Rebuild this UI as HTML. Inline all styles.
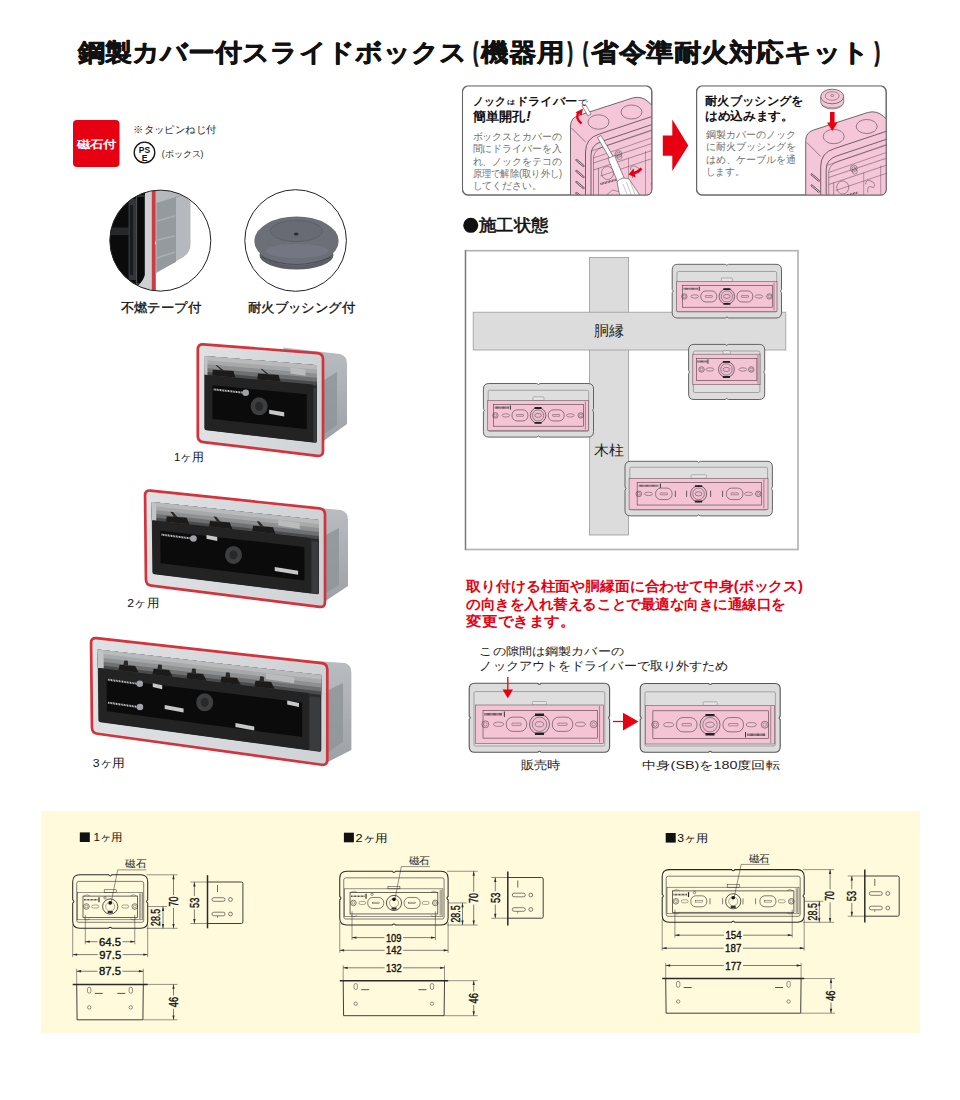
<!DOCTYPE html>
<html lang="ja"><head><meta charset="utf-8"><title>鋼製カバー付スライドボックス</title>
<style>
html,body{margin:0;padding:0;background:#fff;width:960px;height:1100px;overflow:hidden}
svg{display:block}
text{font-family:"Liberation Sans",sans-serif}
</style></head><body>
<svg width="960" height="1100" viewBox="0 0 960 1100">
<text x="77.74" y="60.69" font-size="25.46" font-weight="bold" fill="#111" textLength="389.84" lengthAdjust="spacingAndGlyphs" stroke="#111" stroke-width="0.55" stroke-linejoin="round">鋼製カバー付スライドボックス</text><text x="481.44" y="60.69" font-size="25.46" font-weight="bold" fill="#111" textLength="82.64" lengthAdjust="spacingAndGlyphs" stroke="#111" stroke-width="0.55" stroke-linejoin="round">機器用</text><text x="591.14" y="60.69" font-size="25.46" font-weight="bold" fill="#111" textLength="278.74" lengthAdjust="spacingAndGlyphs" stroke="#111" stroke-width="0.55" stroke-linejoin="round">省令準耐火対応キット</text><text x="473.3" y="61.4" font-size="26.4" font-weight="bold" fill="#111" textLength="4.6" lengthAdjust="spacingAndGlyphs" stroke="#111" stroke-width="1.6">(</text><text x="568.0" y="61.4" font-size="26.4" font-weight="bold" fill="#111" textLength="4.6" lengthAdjust="spacingAndGlyphs" stroke="#111" stroke-width="1.6">)</text><text x="583.0" y="61.4" font-size="26.4" font-weight="bold" fill="#111" textLength="4.6" lengthAdjust="spacingAndGlyphs" stroke="#111" stroke-width="1.6">(</text><text x="875.0" y="61.4" font-size="26.4" font-weight="bold" fill="#111" textLength="4.8" lengthAdjust="spacingAndGlyphs" stroke="#111" stroke-width="1.6">)</text><rect x="73" y="120" width="46.5" height="47" rx="4" fill="#E60012"/><text x="76.67" y="148.38" font-size="10.93" font-weight="bold" fill="#fff" textLength="40.17" lengthAdjust="spacingAndGlyphs" >磁石付</text><text x="133.21" y="132.94" font-size="9.68" fill="#222" textLength="83.07" lengthAdjust="spacingAndGlyphs" >※タッピンねじ付</text><circle cx="144.5" cy="152.5" r="10.3" fill="none" stroke="#111" stroke-width="1.3"/><text x="144.5" y="152.5" font-size="8.5" font-weight="bold" fill="#111" text-anchor="middle" >PS</text><text x="144.5" y="161" font-size="8.5" font-weight="bold" fill="#111" text-anchor="middle" >E</text><text x="161.8" y="156.85" font-size="8.6" fill="#222" textLength="41.6" lengthAdjust="spacingAndGlyphs" >(ボックス)</text><text x="120.62" y="311.6" font-size="12.69" fill="#111" textLength="80.42" lengthAdjust="spacingAndGlyphs" stroke="#111" stroke-width="0.3">不燃テープ付</text><text x="247.82" y="311.6" font-size="12.69" fill="#111" textLength="107.32" lengthAdjust="spacingAndGlyphs" stroke="#111" stroke-width="0.3">耐火ブッシング付</text><defs><clipPath id="c1"><circle cx="160.3" cy="240.6" r="50.5"/></clipPath><clipPath id="c2"><circle cx="295.6" cy="240.5" r="50.8"/></clipPath></defs><g clip-path="url(#c1)"><rect x="105" y="186" width="112" height="110" fill="#fff"/><rect x="105" y="186" width="42" height="110" fill="#0b0b0c"/><rect x="105" y="227.5" width="31" height="7.5" fill="#26282a"/><rect x="128.5" y="199" width="8" height="81" fill="#333538"/><rect x="130" y="205" width="3" height="70" fill="#1a1b1c"/><rect x="136.5" y="196" width="8.5" height="88" fill="#0a0a0a" stroke="#4a4c4f" stroke-width="1.2"/><path d="M145 186 L152.5 186 L152.5 296 L118 296 Q140 290 145 275 Z" fill="#cfd1d3"/><path d="M151.8 186 L155.8 186 L155.8 241 L154.8 243 L155.8 245 L155.8 296 L151.8 296 Z" fill="#cf3b44"/><path d="M155.8 186 L190.5 186 L190.5 244 Q190.5 254 180 259 L155.8 273.5 Z" fill="#b5b9bd"/><path d="M156.5 203 L176 197 L176 262 L156.5 272 Z" fill="#959a9f"/><path d="M157 221 L175 216 M157 240 L175 236 M157 258 L175 252" stroke="#a9aeb2" stroke-width="1.5"/><path d="M176 197 L190 193" stroke="#9ea2a6" stroke-width="1"/></g><circle cx="160.3" cy="240.6" r="50.5" fill="none" stroke="#222" stroke-width="1"/><g clip-path="url(#c2)"><rect x="240" y="185" width="112" height="112" fill="#fff"/><ellipse cx="296.5" cy="255" rx="37" ry="14.5" fill="#5b5e66"/><ellipse cx="296.5" cy="241" rx="42.2" ry="24.5" fill="#6c6f78"/><path d="M262 257 Q296.5 272 331 257" fill="none" stroke="#4c4f56" stroke-width="1.2"/><ellipse cx="297" cy="251" rx="31" ry="7" fill="#7b7e88" opacity="0.55"/><ellipse cx="296.4" cy="231" rx="26" ry="10.5" fill="#686b74" stroke="#5c5f67" stroke-width="0.9"/><ellipse cx="296.2" cy="234" rx="2.4" ry="1.6" fill="#2c2e33"/></g><circle cx="295.6" cy="240.5" r="50.8" fill="none" stroke="#222" stroke-width="1"/><defs><linearGradient id="gside" x1="0" y1="0" x2="0" y2="1"><stop offset="0" stop-color="#b9bdc1"/><stop offset="1" stop-color="#9ea2a6"/></linearGradient><linearGradient id="gframe" x1="0" y1="0" x2="1" y2="0"><stop offset="0" stop-color="#dfe1e3"/><stop offset="1" stop-color="#cfd2d5"/></linearGradient><linearGradient id="gopen" x1="0" y1="0" x2="0" y2="1"><stop offset="0" stop-color="#b9bbbd"/><stop offset="0.1" stop-color="#a3a5a7"/><stop offset="0.24" stop-color="#6e7072"/><stop offset="0.3" stop-color="#2a2a2a"/></linearGradient></defs><path d="M283 347.5 L340 354 Q347 356 347 364 L347 424 L323.5 441 Z" fill="url(#gside)"/><path d="M324 380 L337 372 L337 425 L324 434 Z" fill="#8f9397" opacity="0.8"/><path d="M203.30 344.42 L317.50 353.08 Q323.00 353.50 323.00 359.31 L323.00 450.69 Q323.00 456.50 317.50 455.84 L203.30 442.16 Q197.80 441.50 197.80 436.00 L197.80 349.50 Q197.80 344.00 203.30 344.42 Z" fill="url(#gframe)" stroke="#d3333d" stroke-width="2.7"/><path d="M206.30 356.19 L315.00 365.01 Q317.00 365.17 317.00 367.28 L317.00 440.83 Q317.00 442.94 315.00 442.71 L206.30 430.28 Q204.30 430.06 204.30 428.05 L204.30 358.04 Q204.30 356.03 206.30 356.19 Z" fill="#2a2a2a" /><path d="M204.30 356.03 L317.00 365.17 L317.00 385.41 L204.30 375.30 Z" fill="#4a4b4c" /><path d="M204.30 356.03 L317.00 365.17 L317.00 381.81 L204.30 371.87 Z" fill="#6e7072" /><path d="M204.30 356.03 L317.00 365.17 L317.00 377.70 L204.30 367.96 Z" fill="#8e9092" /><path d="M204.30 356.03 L317.00 365.17 L317.00 373.59 L204.30 364.05 Z" fill="#a6a8aa" /><path d="M204.30 356.03 L317.00 365.17 L317.00 369.48 L204.30 360.14 Z" fill="#b8babc" /><path d="M204.30 356.03 L207.43 358.24 L207.43 375.09 L204.30 374.81 Z" fill="#c2c4c6" /><path d="M212.82 369.68 L233.48 370.98 L235.36 377.59 L212.20 375.51 Z" fill="#1d1b1a" /><path d="M215.33 364.98 L217.21 365.14 L224.09 370.66 L221.59 370.44 Z" fill="#2a2827" /><path d="M257.90 373.59 L278.55 374.88 L280.43 381.62 L257.27 379.55 Z" fill="#1d1b1a" /><path d="M260.40 368.80 L262.28 368.96 L269.16 374.57 L266.66 374.36 Z" fill="#2a2827" /><path d="M290.45 367.28 L305.47 369.55 L305.47 375.68 L290.45 373.38 Z" fill="#b9bbbd" /><path d="M204.93 374.86 L312.98 384.53 L312.98 442.17 L204.93 429.83 Z" fill="#232324" /><path d="M212.43 385.35 L306.73 394.20 L306.73 429.18 L212.43 418.91 Z" fill="#0b0b0b" /><path d="M313.61 387.67 L316.50 387.93 L316.50 442.57 L313.61 442.24 Z" fill="#3a3b3c" /><ellipse cx="259.15" cy="406.27" rx="8.5" ry="9" fill="#3d3e40"/><ellipse cx="259.15" cy="406.27" rx="4" ry="4.5" fill="#27282a"/><line x1="213.68" y1="389.39" x2="243.68" y2="392.76" stroke="#c9cbcd" stroke-width="2" stroke-dasharray="1 0.6"/><circle cx="245.68" cy="392.76" r="3.3" fill="#9ea3a8"/><path d="M269.16 409.80 L284.19 412.34 L284.19 416.40 L269.16 413.82 Z" fill="#c6c8ca" /><text x="173.9" y="460.63" font-size="11.51" fill="#111" textLength="30.1" lengthAdjust="spacingAndGlyphs" >1ヶ用</text><path d="M290 505.5 L341 510 Q348 512 348 520 L348 586 L325.5 601 Z" fill="url(#gside)"/><path d="M326 535 L339 528 L339 585 L326 593 Z" fill="#8f9397" opacity="0.8"/><path d="M150.50 490.58 L319.50 508.42 Q325.00 509.00 325.00 514.70 L325.00 601.80 Q325.00 607.50 319.53 606.81 L151.47 585.69 Q146.00 585.00 145.94 579.50 L145.06 495.50 Q145.00 490.00 150.50 490.58 Z" fill="url(#gframe)" stroke="#d3333d" stroke-width="2.7"/><path d="M153.61 502.13 L317.01 519.76 Q319.00 519.98 319.00 522.05 L319.03 592.38 Q319.03 594.45 317.04 594.21 L154.33 574.17 Q152.34 573.92 152.32 571.92 L151.63 503.91 Q151.61 501.91 153.61 502.13 Z" fill="#2a2a2a" /><path d="M151.61 501.91 L319.00 519.98 L319.01 539.36 L151.80 520.65 Z" fill="#4a4b4c" /><path d="M151.61 501.91 L319.00 519.98 L319.01 535.91 L151.77 517.32 Z" fill="#6e7072" /><path d="M151.61 501.91 L319.00 519.98 L319.01 531.98 L151.73 513.52 Z" fill="#8e9092" /><path d="M151.61 501.91 L319.00 519.98 L319.01 528.04 L151.69 509.71 Z" fill="#a6a8aa" /><path d="M151.61 501.91 L319.00 519.98 L319.01 524.11 L151.65 505.91 Z" fill="#b8babc" /><path d="M151.61 501.91 L156.13 504.30 L156.29 520.68 L151.80 520.18 Z" fill="#c2c4c6" /><path d="M166.82 516.13 L186.59 517.84 L189.33 524.37 L165.97 521.76 Z" fill="#1d1b1a" /><path d="M170.37 511.76 L173.07 512.05 L177.61 517.33 L174.01 516.93 Z" fill="#2a2827" /><path d="M209.96 520.90 L229.73 522.61 L232.46 529.19 L209.10 526.58 Z" fill="#1d1b1a" /><path d="M213.52 516.49 L216.22 516.78 L220.75 522.10 L217.15 521.70 Z" fill="#2a2827" /><path d="M253.10 525.67 L272.87 527.37 L275.59 534.01 L252.23 531.40 Z" fill="#1d1b1a" /><path d="M256.68 521.21 L259.37 521.51 L263.88 526.87 L260.29 526.47 Z" fill="#2a2827" /><path d="M278.24 519.67 L299.82 523.00 L299.83 528.88 L278.26 525.53 Z" fill="#b9bbbd" /><path d="M152.70 520.28 L310.62 537.93 L310.67 593.13 L153.24 573.75 Z" fill="#232324" /><path d="M160.28 530.64 L304.40 547.04 L304.44 580.59 L160.59 563.23 Z" fill="#0b0b0b" /><path d="M311.53 540.98 L318.29 541.74 L318.31 594.07 L311.57 593.24 Z" fill="#3a3b3c" /><ellipse cx="233.49" cy="554.92" rx="8.5" ry="9" fill="#3d3e40"/><ellipse cx="233.49" cy="554.92" rx="4" ry="4.5" fill="#27282a"/><line x1="161.56" y1="534.60" x2="191.49" y2="538.50" stroke="#c9cbcd" stroke-width="2" stroke-dasharray="1 0.6"/><circle cx="193.49" cy="538.50" r="3.3" fill="#9ea3a8"/><path d="M274.78 567.07 L298.10 570.81 L298.11 574.73 L274.79 570.97 Z" fill="#c6c8ca" /><path d="M206.46 534.94 L217.25 537.12 L217.27 540.98 L206.49 538.78 Z" fill="#c6c8ca" /><text x="127.3" y="606.7" font-size="11.83" fill="#111" textLength="31.7" lengthAdjust="spacingAndGlyphs" >2ヶ用</text><path d="M300 660 L345 663 Q351.4 665 351.4 673 L351.4 750 L327.8 762 Z" fill="url(#gside)"/><path d="M328.5 690 L343 683 L343 742 L328.5 752 Z" fill="#8f9397" opacity="0.8"/><path d="M96.50 638.11 L321.80 663.19 Q327.30 663.80 327.30 669.66 L327.30 759.64 Q327.30 765.50 321.82 764.74 L97.48 733.76 Q92.00 733.00 91.94 727.50 L91.06 643.00 Q91.00 637.50 96.50 638.11 Z" fill="url(#gframe)" stroke="#d3333d" stroke-width="2.7"/><path d="M99.61 649.74 L319.30 674.89 Q321.30 675.11 321.30 677.24 L321.32 749.86 Q321.32 751.98 319.33 751.71 L100.34 722.20 Q98.35 721.94 98.33 719.93 L97.64 651.52 Q97.61 649.51 99.61 649.74 Z" fill="#2a2a2a" /><path d="M97.61 649.51 L321.30 675.11 L321.31 695.12 L97.81 668.36 Z" fill="#4a4b4c" /><path d="M97.61 649.51 L321.30 675.11 L321.31 691.56 L97.77 665.01 Z" fill="#6e7072" /><path d="M97.61 649.51 L321.30 675.11 L321.31 687.50 L97.73 661.18 Z" fill="#8e9092" /><path d="M97.61 649.51 L321.30 675.11 L321.31 683.44 L97.69 657.36 Z" fill="#a6a8aa" /><path d="M97.61 649.51 L321.30 675.11 L321.30 679.38 L97.66 653.53 Z" fill="#b8babc" /><path d="M97.61 649.51 L103.54 652.10 L103.70 668.59 L97.80 667.88 Z" fill="#c2c4c6" /><path d="M119.58 664.72 L135.15 666.07 L138.74 672.78 L118.45 670.35 Z" fill="#1d1b1a" /><path d="M124.25 660.46 L127.80 660.87 L128.07 665.72 L123.35 665.16 Z" fill="#2a2827" /><path d="M153.57 668.73 L169.14 670.08 L172.73 676.84 L152.43 674.41 Z" fill="#1d1b1a" /><path d="M158.25 664.42 L161.79 664.83 L162.06 669.73 L157.34 669.17 Z" fill="#2a2827" /><path d="M187.56 672.74 L203.14 674.08 L206.71 680.91 L186.41 678.48 Z" fill="#1d1b1a" /><path d="M192.25 668.39 L195.79 668.80 L196.06 673.74 L191.34 673.18 Z" fill="#2a2827" /><path d="M221.55 676.75 L237.13 678.09 L240.69 684.97 L220.40 682.54 Z" fill="#1d1b1a" /><path d="M226.25 672.35 L229.79 672.77 L230.05 677.75 L225.33 677.19 Z" fill="#2a2827" /><path d="M255.54 680.76 L271.12 682.10 L274.67 689.03 L254.38 686.61 Z" fill="#1d1b1a" /><path d="M260.25 676.32 L263.79 676.73 L264.04 681.76 L259.32 681.20 Z" fill="#2a2827" /><path d="M265.90 672.98 L294.24 677.26 L294.25 683.31 L265.92 678.98 Z" fill="#b9bbbd" /><path d="M98.98 668.02 L308.42 693.07 L308.47 749.95 L99.53 721.81 Z" fill="#232324" /><path d="M106.57 678.51 L302.19 702.43 L302.23 736.98 L106.89 711.31 Z" fill="#0b0b0b" /><path d="M309.60 696.25 L320.36 697.54 L320.38 751.55 L309.64 750.10 Z" fill="#3a3b3c" /><ellipse cx="204.70" cy="702.32" rx="8.5" ry="9" fill="#3d3e40"/><ellipse cx="204.70" cy="702.32" rx="4" ry="4.5" fill="#27282a"/><line x1="107.82" y1="679.62" x2="137.77" y2="683.77" stroke="#c9cbcd" stroke-width="2" stroke-dasharray="1 0.6"/><circle cx="139.77" cy="683.77" r="3.3" fill="#9ea3a8"/><line x1="108.05" y1="702.64" x2="137.97" y2="706.99" stroke="#c9cbcd" stroke-width="2" stroke-dasharray="1 0.6"/><circle cx="139.97" cy="706.99" r="3.3" fill="#9ea3a8"/><path d="M164.67 705.08 L183.54 708.47 L183.56 712.38 L164.70 708.98 Z" fill="#c6c8ca" /><path d="M235.42 723.04 L254.27 726.49 L254.28 730.48 L235.43 727.01 Z" fill="#c6c8ca" /><path d="M152.73 683.18 L162.18 685.31 L162.21 689.20 L152.76 687.07 Z" fill="#c6c8ca" /><path d="M287.20 700.59 L298.99 703.05 L299.00 707.08 L287.21 704.62 Z" fill="#c6c8ca" /><text x="92.8" y="767.23" font-size="11.51" fill="#111" textLength="32.3" lengthAdjust="spacingAndGlyphs" >3ヶ用</text><rect x="462.5" y="86" width="189.3" height="109" rx="6" fill="#fff" stroke="#6e6e6e" stroke-width="1.1"/><rect x="696.6" y="86" width="189.6" height="109" rx="6" fill="#fff" stroke="#6e6e6e" stroke-width="1.1"/><defs><clipPath id="b1"><rect x="462.5" y="86" width="189.3" height="109" rx="6"/></clipPath><clipPath id="b2"><rect x="696.6" y="86" width="189.6" height="109" rx="6"/></clipPath></defs><g clip-path="url(#b1)"><path d="M570.5 198 L570.5 126 Q570.5 118 578.5 115.5 L632.5 98 Q641.5 95.5 648.5 102 L665.5 118 L665.5 198 Z" fill="#f5c6d8" stroke="#4f4448" stroke-width="0.8"/><path d="M571.5 128 L585.5 142" stroke="#4f4448" stroke-width="0.6" fill="none"/><path d="M585.5 198 L585.5 152 Q585.5 138 599.5 134 L665.5 112" stroke="#4f4448" stroke-width="0.8" fill="none"/><path d="M591.0 198 L591.0 155 Q591.0 145 601.5 141.5 L665.5 120" stroke="#4f4448" stroke-width="0.8" fill="none"/><path d="M593.5 198 L593.5 157 Q594.5 150 602.5 147 L665.5 126" stroke="#4f4448" stroke-width="0.5" fill="none"/><path d="M593.5 163 L665.5 139 M593.5 170 L665.5 146 M598.5 198 L598.5 168" stroke="#4f4448" stroke-width="0.5" fill="none"/><path d="M628.5 198 L628.5 158 M645.5 198 L645.5 151" stroke="#4f4448" stroke-width="0.4" fill="none"/><path d="M591.5 151 L665.5 125 M593.5 158 L665.5 133 M600.5 176 L665.5 154" stroke="#4f4448" stroke-width="0.45" fill="none"/><path d="M630.5 170 q0 -5 4 -4 l4 2 q2 2 0 5 l-4 -1 q-2 0 -2 3 l0 3" stroke="#4f4448" stroke-width="0.5" fill="none"/><circle cx="619.5" cy="157" r="2.6" fill="none" stroke="#4f4448" stroke-width="0.45"/><path d="M606.5 195 l6 -5 l8 2 l0 6 M650.5 184 l6 -2 l0 8" stroke="#4f4448" stroke-width="0.45" fill="none"/><circle cx="618.5" cy="154" r="3.4" fill="none" stroke="#4f4448" stroke-width="0.5"/><circle cx="618.5" cy="154" r="1.8" fill="none" stroke="#4f4448" stroke-width="0.5"/><ellipse cx="607.5" cy="173" rx="6" ry="6.5" fill="none" stroke="#4f4448" stroke-width="0.5"/><path d="M600.5 184 L622.5 178" stroke="#4f4448" stroke-width="2.2" stroke-dasharray="0.8 0.7" fill="none"/><ellipse cx="598.5" cy="122" rx="10.5" ry="7.2" fill="none" stroke="#4f4448" stroke-width="0.6"/><ellipse cx="631.5" cy="112" rx="10.5" ry="7" fill="none" stroke="#4f4448" stroke-width="0.6"/><path d="M576.5 160 L583.5 166" stroke="#4f4448" stroke-width="2.2" stroke-linecap="round"/><path d="M576.5 160 L583.5 166" stroke="#f3c6d6" stroke-width="1" stroke-linecap="round"/><path d="M576.5 171 L583.5 177" stroke="#4f4448" stroke-width="2.2" stroke-linecap="round"/><path d="M576.5 171 L583.5 177" stroke="#f3c6d6" stroke-width="1" stroke-linecap="round"/><path d="M576.5 182 L583.5 188" stroke="#4f4448" stroke-width="2.2" stroke-linecap="round"/><path d="M576.5 182 L583.5 188" stroke="#f3c6d6" stroke-width="1" stroke-linecap="round"/><path d="M576.5 193 L583.5 199" stroke="#4f4448" stroke-width="2.2" stroke-linecap="round"/><path d="M576.5 193 L583.5 199" stroke="#f3c6d6" stroke-width="1" stroke-linecap="round"/></g><g clip-path="url(#b2)"><path d="M805.7 212.5 L805.7 140.5 Q805.7 132.5 813.7 130.0 L867.7 112.5 Q876.7 110.0 883.7 116.5 L900.7 132.5 L900.7 212.5 Z" fill="#f5c6d8" stroke="#4f4448" stroke-width="0.8"/><path d="M806.7 142.5 L820.7 156.5" stroke="#4f4448" stroke-width="0.6" fill="none"/><path d="M820.7 212.5 L820.7 166.5 Q820.7 152.5 834.7 148.5 L900.7 126.5" stroke="#4f4448" stroke-width="0.8" fill="none"/><path d="M826.2 212.5 L826.2 169.5 Q826.2 159.5 836.7 156.0 L900.7 134.5" stroke="#4f4448" stroke-width="0.8" fill="none"/><path d="M828.7 212.5 L828.7 171.5 Q829.7 164.5 837.7 161.5 L900.7 140.5" stroke="#4f4448" stroke-width="0.5" fill="none"/><path d="M828.7 177.5 L900.7 153.5 M828.7 184.5 L900.7 160.5 M833.7 212.5 L833.7 182.5" stroke="#4f4448" stroke-width="0.5" fill="none"/><path d="M863.7 212.5 L863.7 172.5 M880.7 212.5 L880.7 165.5" stroke="#4f4448" stroke-width="0.4" fill="none"/><path d="M826.7 165.5 L900.7 139.5 M828.7 172.5 L900.7 147.5 M835.7 190.5 L900.7 168.5" stroke="#4f4448" stroke-width="0.45" fill="none"/><path d="M865.7 184.5 q0 -5 4 -4 l4 2 q2 2 0 5 l-4 -1 q-2 0 -2 3 l0 3" stroke="#4f4448" stroke-width="0.5" fill="none"/><circle cx="854.7" cy="171.5" r="2.6" fill="none" stroke="#4f4448" stroke-width="0.45"/><path d="M841.7 209.5 l6 -5 l8 2 l0 6 M885.7 198.5 l6 -2 l0 8" stroke="#4f4448" stroke-width="0.45" fill="none"/><circle cx="853.7" cy="168.5" r="3.4" fill="none" stroke="#4f4448" stroke-width="0.5"/><circle cx="853.7" cy="168.5" r="1.8" fill="none" stroke="#4f4448" stroke-width="0.5"/><ellipse cx="842.7" cy="187.5" rx="6" ry="6.5" fill="none" stroke="#4f4448" stroke-width="0.5"/><path d="M835.7 198.5 L857.7 192.5" stroke="#4f4448" stroke-width="2.2" stroke-dasharray="0.8 0.7" fill="none"/><ellipse cx="833.7" cy="136.5" rx="10.5" ry="7.2" fill="none" stroke="#4f4448" stroke-width="0.6"/><ellipse cx="866.7" cy="126.5" rx="10.5" ry="7" fill="none" stroke="#4f4448" stroke-width="0.6"/><path d="M811.7 174.5 L818.7 180.5" stroke="#4f4448" stroke-width="2.2" stroke-linecap="round"/><path d="M811.7 174.5 L818.7 180.5" stroke="#f3c6d6" stroke-width="1" stroke-linecap="round"/><path d="M811.7 185.5 L818.7 191.5" stroke="#4f4448" stroke-width="2.2" stroke-linecap="round"/><path d="M811.7 185.5 L818.7 191.5" stroke="#f3c6d6" stroke-width="1" stroke-linecap="round"/><path d="M811.7 196.5 L818.7 202.5" stroke="#4f4448" stroke-width="2.2" stroke-linecap="round"/><path d="M811.7 196.5 L818.7 202.5" stroke="#f3c6d6" stroke-width="1" stroke-linecap="round"/><path d="M811.7 207.5 L818.7 213.5" stroke="#4f4448" stroke-width="2.2" stroke-linecap="round"/><path d="M811.7 207.5 L818.7 213.5" stroke="#f3c6d6" stroke-width="1" stroke-linecap="round"/></g><g clip-path="url(#b1)"><path d="M582 106 L585.5 104.5 L591 114 L588 116 Z" fill="#fff" stroke="#4f4448" stroke-width="0.6"/><path d="M597.5 137.5 L601 135.5 L613.5 157 L610 159 Z" fill="#fff" stroke="#4f4448" stroke-width="0.6"/><path d="M608 158.5 L614.5 155.5 L625 180 L618 183 Z" fill="#fff" stroke="#4f4448" stroke-width="0.6"/><path d="M617 182 Q622 176 629 179 L641 197 L620 197 Z" fill="#fff" stroke="#4f4448" stroke-width="0.6"/><path d="M623 184 L628 197 M626.5 182 L632 197 M630 181 L636 197" stroke="#9a8a90" stroke-width="0.5"/></g><path d="M581.5 123.5 Q574.5 118 579 111.5" fill="none" stroke="#E60012" stroke-width="2.4"/><path d="M575.5 112.5 L583 108.5 L581.5 115.5 Z" fill="#E60012"/><path d="M641.5 168.5 Q637 173 632 173.5" fill="none" stroke="#E60012" stroke-width="2.6"/><path d="M633.5 168.5 L628.5 174.5 L635.5 177.5 Z" fill="#E60012"/><path d="M820.7 97 L820.7 102 A11.5 7 0 0 0 843.7 102 L843.7 97 Z" fill="#f3c6d6" stroke="#4f4448" stroke-width="0.6"/><ellipse cx="832.2" cy="96.5" rx="11.5" ry="7.3" fill="#f3c6d6" stroke="#4f4448" stroke-width="0.7"/><ellipse cx="832.2" cy="96" rx="7" ry="4.3" fill="none" stroke="#4f4448" stroke-width="0.5"/><ellipse cx="832.2" cy="95.5" rx="1.6" ry="1" fill="none" stroke="#4f4448" stroke-width="0.5"/><path d="M822 104.5 A11 5 0 0 0 842.5 104.5" fill="none" stroke="#4f4448" stroke-width="0.4"/><path d="M830 112 L834.6 112 L834.6 122.5 L837.5 122.5 L832.3 131 L827 122.5 L830 122.5 Z" fill="#E60012"/><rect x="462.5" y="86" width="189.3" height="109" rx="5" fill="none" stroke="#666" stroke-width="1"/><rect x="696.6" y="86" width="189.6" height="109" rx="5" fill="none" stroke="#666" stroke-width="1"/><path d="M467 86.2 L647 86.2 M701 86.2 L881.5 86.2" stroke="#b0b0b0" stroke-width="1.8"/><path d="M662.8 135.4 L672.3 135.4 L672.3 119.4 L688.3 145.4 L672.3 171.1 L672.3 155.8 L662.8 155.8 Z" fill="#E60012"/><text x="472.86" y="104.64" font-size="11.24" font-weight="bold" fill="#111" textLength="32.5" lengthAdjust="spacingAndGlyphs" >ノック</text><text x="506.57" y="104.11" font-size="6.08" font-weight="bold" fill="#111" textLength="8.24" lengthAdjust="spacingAndGlyphs" >は</text><text x="516.06" y="104.64" font-size="11.24" font-weight="bold" fill="#111" textLength="61.0" lengthAdjust="spacingAndGlyphs" >ドライバー</text><text x="577.57" y="104.66" font-size="7.63" fill="#111" textLength="9.61" lengthAdjust="spacingAndGlyphs" >で</text><text x="472.8" y="120.57" font-size="13.3" font-weight="bold" fill="#111" textLength="52.66" lengthAdjust="spacingAndGlyphs" >簡単開孔</text><text x="526" y="121.2" font-size="14.5" font-weight="bold" fill="#111" font-style="italic">!</text><text x="472.5" y="140.2" font-size="10.0" fill="#707070" textLength="89.5" lengthAdjust="spacingAndGlyphs" >ボックスとカバーの</text><text x="472.5" y="152.4" font-size="10.0" fill="#707070" textLength="89.5" lengthAdjust="spacingAndGlyphs" >間にドライバーを入</text><text x="472.5" y="164.6" font-size="10.0" fill="#707070" textLength="89.5" lengthAdjust="spacingAndGlyphs" >れ、ノックをテコの</text><text x="472.5" y="176.8" font-size="10.0" fill="#707070" textLength="89.7" lengthAdjust="spacingAndGlyphs" >原理で解除(取り外し)</text><text x="472.5" y="189.0" font-size="10.0" fill="#707070" textLength="69.4" lengthAdjust="spacingAndGlyphs" >してください。</text><text x="704.94" y="104.65" font-size="11.96" font-weight="bold" fill="#111" textLength="98.66" lengthAdjust="spacingAndGlyphs" >耐火ブッシングを</text><text x="704.94" y="120.05" font-size="11.96" font-weight="bold" fill="#111" textLength="88.98" lengthAdjust="spacingAndGlyphs" >はめ込みます。</text><text x="705.7" y="137.8" font-size="10.0" fill="#707070" textLength="89.8" lengthAdjust="spacingAndGlyphs" >鋼製カバーのノック</text><text x="705.7" y="150.2" font-size="10.0" fill="#707070" textLength="89.8" lengthAdjust="spacingAndGlyphs" >に耐火ブッシングを</text><text x="705.7" y="162.6" font-size="10.0" fill="#707070" textLength="89.8" lengthAdjust="spacingAndGlyphs" >はめ、ケーブルを通</text><text x="705.7" y="175.0" font-size="10.0" fill="#707070" textLength="39.1" lengthAdjust="spacingAndGlyphs" >します。</text><circle cx="470.75" cy="225.35" r="7.5" fill="#111"/><text x="478.89" y="231.23" font-size="16.99" fill="#111" textLength="69.76" lengthAdjust="spacingAndGlyphs" stroke="#111" stroke-width="0.55">施工状態</text><rect x="465.5" y="250.7" width="332.5" height="298.8" fill="#fff" stroke="#b4b4b4" stroke-width="1.7"/><path d="M465.5 250 L465.5 550" stroke="#777" stroke-width="1.1"/><rect x="589.4" y="257.5" width="39.1" height="277.5" fill="#dcdcdc" stroke="#9a9a9a" stroke-width="0.8"/><rect x="473.2" y="312.2" width="312.6" height="37.8" fill="#dcdcdc" stroke="#9a9a9a" stroke-width="0.8"/><text x="593.94" y="336.31" font-size="15.38" fill="#222" textLength="30.03" lengthAdjust="spacingAndGlyphs" >胴縁</text><text x="593.59" y="455.11" font-size="13.55" fill="#222" textLength="30.08" lengthAdjust="spacingAndGlyphs" >木柱</text><path d="M677.7 264.3 L725.25 264.3 Q726.85 266.3 728.45 264.3 L776.0 264.3 Q781.5 264.3 781.5 269.8 L781.5 289.54999999999995 Q779.5 291.15 781.5 292.75 L781.5 312.5 Q781.5 318 776.0 318 L728.45 318 Q726.85 316 725.25 318 L677.7 318 Q672.2 318 672.2 312.5 L672.2 292.75 Q674.2 291.15 672.2 289.54999999999995 L672.2 269.8 Q672.2 264.3 677.7 264.3 Z" fill="#dcdcdc" stroke="#555" stroke-width="0.9"/><rect x="677.0" y="271.5" width="99.69999999999996" height="40.5" rx="1.5" fill="#dedede" stroke="#7a7a7a" stroke-width="0.6"/><rect x="721.3335000000001" y="278.0" width="11.032999999999996" height="3.5" rx="0.8" fill="#e6e6e6" stroke="#7a7a7a" stroke-width="0.5"/><rect x="676.7" y="281.5" width="100.29999999999995" height="29.899999999999977" fill="#f4c4d5" stroke="#6a5a60" stroke-width="0.6"/><rect x="682.5174000000001" y="285.686" width="89.76849999999996" height="21.527999999999984" fill="none" stroke="#4a3f44" stroke-width="0.6"/><line x1="773.991" y1="282.5" x2="773.991" y2="310.4" stroke="#4a3f44" stroke-width="0.5"/><circle cx="726.85" cy="296.45" r="7.773999999999995" fill="#efbdd0" stroke="#4a3f44" stroke-width="0.7"/><circle cx="726.85" cy="296.45" r="5.597279999999996" fill="none" stroke="#4a3f44" stroke-width="0.5"/><path d="M723.3517 289.0647 h6.9965999999999955 M723.3517 303.83529999999996 h6.9965999999999955" stroke="#222" stroke-width="1.7939999999999985"/><ellipse cx="726.85" cy="296.45" rx="3.2650799999999975" ry="2.021239999999999" fill="none" stroke="#4a3f44" stroke-width="0.5"/><rect x="700.8725000000001" y="290.9185" width="15.846999999999989" height="11.062999999999992" rx="5.082999999999997" fill="none" stroke="#4a3f44" stroke-width="0.6"/><rect x="705.2080000000001" y="295.553" width="7.175999999999994" height="1.7939999999999985" rx="0.5" fill="none" stroke="#4a3f44" stroke-width="0.45"/><rect x="736.9805" y="290.9185" width="15.846999999999989" height="11.062999999999992" rx="5.082999999999997" fill="none" stroke="#4a3f44" stroke-width="0.6"/><rect x="741.316" y="295.553" width="7.175999999999994" height="1.7939999999999985" rx="0.5" fill="none" stroke="#4a3f44" stroke-width="0.45"/><ellipse cx="694.754" cy="296.45" rx="3.8869999999999973" ry="1.6444999999999987" fill="none" stroke="#4a3f44" stroke-width="0.5"/><circle cx="684.3228" cy="296.45" r="2.690999999999998" fill="none" stroke="#4a3f44" stroke-width="0.6"/><circle cx="684.3228" cy="296.45" r="1.345499999999999" fill="none" stroke="#4a3f44" stroke-width="0.4"/><ellipse cx="758.946" cy="296.45" rx="3.8869999999999973" ry="1.6444999999999987" fill="none" stroke="#4a3f44" stroke-width="0.5"/><circle cx="769.3772" cy="296.45" r="2.690999999999998" fill="none" stroke="#4a3f44" stroke-width="0.6"/><circle cx="769.3772" cy="296.45" r="1.345499999999999" fill="none" stroke="#4a3f44" stroke-width="0.4"/><path d="M683.721 288.676 h14.041999999999994" stroke="#333" stroke-width="2.0929999999999986" stroke-dasharray="0.7 0.5"/><line x1="699.2675" y1="286.58299999999997" x2="699.2675" y2="290.769" stroke="#333" stroke-width="1"/><path d="M694.1 344.4 L725.0500000000001 344.4 Q726.6500000000001 346.4 728.2500000000001 344.4 L759.2 344.4 Q764.7 344.4 764.7 349.9 L764.7 370.34999999999997 Q762.7 371.95 764.7 373.55 L764.7 394.0 Q764.7 399.5 759.2 399.5 L728.2500000000001 399.5 Q726.6500000000001 397.5 725.0500000000001 399.5 L694.1 399.5 Q688.6 399.5 688.6 394.0 L688.6 373.55 Q690.6 371.95 688.6 370.34999999999997 L688.6 349.9 Q688.6 344.4 694.1 344.4 Z" fill="#dcdcdc" stroke="#555" stroke-width="0.9"/><rect x="693.4" y="351" width="66.50000000000003" height="41.5" rx="1.5" fill="#dedede" stroke="#7a7a7a" stroke-width="0.6"/><rect x="722.9540000000001" y="350.7" width="7.392000000000005" height="3.5" rx="0.8" fill="#e6e6e6" stroke="#7a7a7a" stroke-width="0.5"/><rect x="692.8" y="354.2" width="67.20000000000005" height="30.5" fill="#f4c4d5" stroke="#6a5a60" stroke-width="0.6"/><rect x="696.6976" y="358.46999999999997" width="60.14400000000004" height="21.96" fill="none" stroke="#4a3f44" stroke-width="0.6"/><line x1="757.984" y1="355.2" x2="757.984" y2="383.7" stroke="#4a3f44" stroke-width="0.5"/><circle cx="726.4" cy="369.45" r="7.930000000000001" fill="#efbdd0" stroke="#4a3f44" stroke-width="0.7"/><circle cx="726.4" cy="369.45" r="5.7096" fill="none" stroke="#4a3f44" stroke-width="0.5"/><path d="M722.8315 361.9165 h7.1370000000000005 M722.8315 376.9835 h7.1370000000000005" stroke="#222" stroke-width="1.8299999999999998"/><ellipse cx="726.4" cy="369.45" rx="3.3306" ry="2.0618000000000003" fill="none" stroke="#4a3f44" stroke-width="0.5"/><ellipse cx="709.9359999999999" cy="369.45" rx="3.9650000000000003" ry="1.6775" fill="none" stroke="#4a3f44" stroke-width="0.5"/><circle cx="701.536" cy="369.45" r="2.745" fill="none" stroke="#4a3f44" stroke-width="0.6"/><circle cx="701.536" cy="369.45" r="1.3725" fill="none" stroke="#4a3f44" stroke-width="0.4"/><ellipse cx="742.864" cy="369.45" rx="3.9650000000000003" ry="1.6775" fill="none" stroke="#4a3f44" stroke-width="0.5"/><circle cx="751.264" cy="369.45" r="2.745" fill="none" stroke="#4a3f44" stroke-width="0.6"/><circle cx="751.264" cy="369.45" r="1.3725" fill="none" stroke="#4a3f44" stroke-width="0.4"/><path d="M697.5039999999999 361.52 h9.408000000000007" stroke="#333" stroke-width="2.1350000000000002" stroke-dasharray="0.7 0.5"/><line x1="707.92" y1="359.385" x2="707.92" y2="363.655" stroke="#333" stroke-width="1"/><path d="M488.9 383.5 L536.85 383.5 Q538.45 385.5 540.0500000000001 383.5 L588.0 383.5 Q593.5 383.5 593.5 389.0 L593.5 408.7 Q591.5 410.3 593.5 411.90000000000003 L593.5 431.6 Q593.5 437.1 588.0 437.1 L540.0500000000001 437.1 Q538.45 435.1 536.85 437.1 L488.9 437.1 Q483.4 437.1 483.4 431.6 L483.4 411.90000000000003 Q485.4 410.3 483.4 408.7 L483.4 389.0 Q483.4 383.5 488.9 383.5 Z" fill="#dcdcdc" stroke="#555" stroke-width="0.9"/><rect x="488.2" y="390.25" width="100.50000000000003" height="41.25" rx="1.5" fill="#dedede" stroke="#7a7a7a" stroke-width="0.6"/><rect x="532.91425" y="396.9" width="11.071499999999997" height="3.5" rx="0.8" fill="#e6e6e6" stroke="#7a7a7a" stroke-width="0.5"/><rect x="487.75" y="400.4" width="100.64999999999998" height="30.0" fill="#f4c4d5" stroke="#6a5a60" stroke-width="0.6"/><rect x="493.5877" y="404.59999999999997" width="90.08174999999999" height="21.599999999999998" fill="none" stroke="#4a3f44" stroke-width="0.6"/><line x1="585.3805" y1="401.4" x2="585.3805" y2="429.4" stroke="#4a3f44" stroke-width="0.5"/><circle cx="538.075" cy="415.4" r="7.800000000000001" fill="#efbdd0" stroke="#4a3f44" stroke-width="0.7"/><circle cx="538.075" cy="415.4" r="5.6160000000000005" fill="none" stroke="#4a3f44" stroke-width="0.5"/><path d="M534.565 407.98999999999995 h7.0200000000000005 M534.565 422.81 h7.0200000000000005" stroke="#222" stroke-width="1.7999999999999998"/><ellipse cx="538.075" cy="415.4" rx="3.2760000000000002" ry="2.0280000000000005" fill="none" stroke="#4a3f44" stroke-width="0.5"/><rect x="512.008" y="409.84999999999997" width="15.9" height="11.1" rx="5.1000000000000005" fill="none" stroke="#4a3f44" stroke-width="0.6"/><rect x="516.3580000000001" y="414.5" width="7.199999999999999" height="1.7999999999999998" rx="0.5" fill="none" stroke="#4a3f44" stroke-width="0.45"/><rect x="548.242" y="409.84999999999997" width="15.9" height="11.1" rx="5.1000000000000005" fill="none" stroke="#4a3f44" stroke-width="0.6"/><rect x="552.592" y="414.5" width="7.199999999999999" height="1.7999999999999998" rx="0.5" fill="none" stroke="#4a3f44" stroke-width="0.45"/><ellipse cx="505.8670000000001" cy="415.4" rx="3.9000000000000004" ry="1.65" fill="none" stroke="#4a3f44" stroke-width="0.5"/><circle cx="495.39940000000007" cy="415.4" r="2.6999999999999997" fill="none" stroke="#4a3f44" stroke-width="0.6"/><circle cx="495.39940000000007" cy="415.4" r="1.3499999999999999" fill="none" stroke="#4a3f44" stroke-width="0.4"/><ellipse cx="570.283" cy="415.4" rx="3.9000000000000004" ry="1.65" fill="none" stroke="#4a3f44" stroke-width="0.5"/><circle cx="580.7506000000001" cy="415.4" r="2.6999999999999997" fill="none" stroke="#4a3f44" stroke-width="0.6"/><circle cx="580.7506000000001" cy="415.4" r="1.3499999999999999" fill="none" stroke="#4a3f44" stroke-width="0.4"/><path d="M494.7955 407.59999999999997 h14.090999999999998" stroke="#333" stroke-width="2.1" stroke-dasharray="0.7 0.5"/><line x1="510.39625" y1="405.49999999999994" x2="510.39625" y2="409.7" stroke="#333" stroke-width="1"/><path d="M630.5 461.3 L697.1 461.3 Q698.7 463.3 700.3000000000001 461.3 L766.9 461.3 Q772.4 461.3 772.4 466.8 L772.4 487.0 Q770.4 488.6 772.4 490.20000000000005 L772.4 510.4 Q772.4 515.9 766.9 515.9 L700.3000000000001 515.9 Q698.7 513.9 697.1 515.9 L630.5 515.9 Q625 515.9 625 510.4 L625 490.20000000000005 Q627 488.6 625 487.0 L625 466.8 Q625 461.3 630.5 461.3 Z" fill="#dcdcdc" stroke="#555" stroke-width="0.9"/><rect x="629.8" y="467.25" width="137.79999999999998" height="42.75" rx="1.5" fill="#dedede" stroke="#7a7a7a" stroke-width="0.6"/><rect x="691.0605" y="474.8" width="15.278999999999998" height="3.5" rx="0.8" fill="#e6e6e6" stroke="#7a7a7a" stroke-width="0.5"/><rect x="629.1" y="478.3" width="138.89999999999998" height="31.099999999999966" fill="#f4c4d5" stroke="#6a5a60" stroke-width="0.6"/><rect x="637.1562" y="482.654" width="124.31549999999999" height="22.391999999999975" fill="none" stroke="#4a3f44" stroke-width="0.6"/><line x1="763.833" y1="479.3" x2="763.833" y2="508.4" stroke="#4a3f44" stroke-width="0.5"/><circle cx="698.55" cy="493.85" r="8.085999999999991" fill="#efbdd0" stroke="#4a3f44" stroke-width="0.7"/><circle cx="698.55" cy="493.85" r="5.821919999999993" fill="none" stroke="#4a3f44" stroke-width="0.5"/><path d="M694.9113 486.16830000000004 h7.277399999999992 M694.9113 501.5317 h7.277399999999992" stroke="#222" stroke-width="1.8659999999999979"/><ellipse cx="698.55" cy="493.85" rx="3.3961199999999963" ry="2.102359999999998" fill="none" stroke="#4a3f44" stroke-width="0.5"/><rect x="655.5835" y="488.09650000000005" width="16.482999999999983" height="11.506999999999987" rx="5.286999999999995" fill="none" stroke="#4a3f44" stroke-width="0.6"/><rect x="660.093" y="492.91700000000003" width="7.4639999999999915" height="1.8659999999999979" rx="0.5" fill="none" stroke="#4a3f44" stroke-width="0.45"/><rect x="726.4225" y="488.09650000000005" width="16.482999999999983" height="11.506999999999987" rx="5.286999999999995" fill="none" stroke="#4a3f44" stroke-width="0.6"/><rect x="730.932" y="492.91700000000003" width="7.4639999999999915" height="1.8659999999999979" rx="0.5" fill="none" stroke="#4a3f44" stroke-width="0.45"/><ellipse cx="648.5459999999999" cy="493.85" rx="4.042999999999996" ry="1.7104999999999981" fill="none" stroke="#4a3f44" stroke-width="0.5"/><circle cx="638.823" cy="493.85" r="2.798999999999997" fill="none" stroke="#4a3f44" stroke-width="0.6"/><circle cx="638.823" cy="493.85" r="1.3994999999999984" fill="none" stroke="#4a3f44" stroke-width="0.4"/><ellipse cx="748.554" cy="493.85" rx="4.042999999999996" ry="1.7104999999999981" fill="none" stroke="#4a3f44" stroke-width="0.5"/><circle cx="758.2769999999999" cy="493.85" r="2.798999999999997" fill="none" stroke="#4a3f44" stroke-width="0.6"/><circle cx="758.2769999999999" cy="493.85" r="1.3994999999999984" fill="none" stroke="#4a3f44" stroke-width="0.4"/><line x1="675.3537" y1="490.74" x2="675.3537" y2="496.96000000000004" stroke="#4a3f44" stroke-width="0.8"/><line x1="686.6046" y1="490.74" x2="686.6046" y2="496.96000000000004" stroke="#4a3f44" stroke-width="0.8"/><line x1="710.6342999999999" y1="490.74" x2="710.6342999999999" y2="496.96000000000004" stroke="#4a3f44" stroke-width="0.8"/><line x1="722.5797" y1="490.74" x2="722.5797" y2="496.96000000000004" stroke="#4a3f44" stroke-width="0.8"/><path d="M638.823 485.764 h19.445999999999998" stroke="#333" stroke-width="2.176999999999998" stroke-dasharray="0.7 0.5"/><line x1="660.3525" y1="483.587" x2="660.3525" y2="487.94100000000003" stroke="#333" stroke-width="1"/><text x="466.38" y="590.99" font-size="13.92" font-weight="bold" fill="#E60012" textLength="336.62" lengthAdjust="spacingAndGlyphs" >取り付ける柱面や胴縁面に合わせて中身(ボックス)</text><text x="466.38" y="608.74" font-size="13.92" font-weight="bold" fill="#E60012" textLength="319.31" lengthAdjust="spacingAndGlyphs" >の向きを入れ替えることで最適な向きに通線口を</text><text x="466.38" y="626.49" font-size="13.92" font-weight="bold" fill="#E60012" textLength="109.35" lengthAdjust="spacingAndGlyphs" >変更できます。</text><text x="479.46" y="655.06" font-size="11.29" fill="#222" textLength="144.4" lengthAdjust="spacingAndGlyphs" >この隙間は鋼製カバーの</text><text x="479.44" y="670.19" font-size="11.94" fill="#222" textLength="248.85" lengthAdjust="spacingAndGlyphs" >ノックアウトをドライバーで取り外すため</text><path d="M474.7 683.3 L537.8 683.3 Q539.4 685.3 541.0 683.3 L604.1 683.3 Q609.6 683.3 609.6 688.8 L609.6 716.1999999999999 Q607.6 717.8 609.6 719.4 L609.6 746.8 Q609.6 752.3 604.1 752.3 L541.0 752.3 Q539.4 750.3 537.8 752.3 L474.7 752.3 Q469.2 752.3 469.2 746.8 L469.2 719.4 Q471.2 717.8 469.2 716.1999999999999 L469.2 688.8 Q469.2 683.3 474.7 683.3 Z" fill="#dcdcdc" stroke="#555" stroke-width="1.1"/><rect x="474.0" y="691.6" width="130.80000000000004" height="54.39999999999998" rx="1.5" fill="#dedede" stroke="#7a7a7a" stroke-width="0.6"/><rect x="532.371" y="701.5" width="14.057999999999995" height="3.5" rx="0.8" fill="#e6e6e6" stroke="#7a7a7a" stroke-width="0.5"/><rect x="475.6" y="705" width="127.79999999999995" height="38.5" fill="#f4c4d5" stroke="#6a5a60" stroke-width="0.6"/><rect x="483.0124" y="710.39" width="114.38099999999996" height="27.72" fill="none" stroke="#4a3f44" stroke-width="0.6"/><line x1="599.566" y1="706" x2="599.566" y2="742.5" stroke="#4a3f44" stroke-width="0.5"/><circle cx="539.5" cy="724.25" r="10.01" fill="#efbdd0" stroke="#4a3f44" stroke-width="0.7"/><circle cx="539.5" cy="724.25" r="7.207199999999999" fill="none" stroke="#4a3f44" stroke-width="0.5"/><path d="M534.9955 714.7405 h9.009 M534.9955 733.7595 h9.009" stroke="#222" stroke-width="2.31"/><ellipse cx="539.5" cy="724.25" rx="4.2042" ry="2.6026000000000002" fill="none" stroke="#4a3f44" stroke-width="0.5"/><rect x="506.2935" y="717.1275" width="20.405" height="14.245" rx="6.545000000000001" fill="none" stroke="#4a3f44" stroke-width="0.6"/><rect x="511.876" y="723.095" width="9.24" height="2.31" rx="0.5" fill="none" stroke="#4a3f44" stroke-width="0.45"/><rect x="552.3015" y="717.1275" width="20.405" height="14.245" rx="6.545000000000001" fill="none" stroke="#4a3f44" stroke-width="0.6"/><rect x="557.884" y="723.095" width="9.24" height="2.31" rx="0.5" fill="none" stroke="#4a3f44" stroke-width="0.45"/><ellipse cx="498.60400000000004" cy="724.25" rx="5.005" ry="2.1175" fill="none" stroke="#4a3f44" stroke-width="0.5"/><circle cx="485.31280000000004" cy="724.25" r="3.465" fill="none" stroke="#4a3f44" stroke-width="0.6"/><circle cx="485.31280000000004" cy="724.25" r="1.7325" fill="none" stroke="#4a3f44" stroke-width="0.4"/><ellipse cx="580.396" cy="724.25" rx="5.005" ry="2.1175" fill="none" stroke="#4a3f44" stroke-width="0.5"/><circle cx="593.6872" cy="724.25" r="3.465" fill="none" stroke="#4a3f44" stroke-width="0.6"/><circle cx="593.6872" cy="724.25" r="1.7325" fill="none" stroke="#4a3f44" stroke-width="0.4"/><path d="M484.54600000000005 714.24 h17.891999999999996" stroke="#333" stroke-width="2.6950000000000003" stroke-dasharray="0.7 0.5"/><line x1="504.355" y1="711.545" x2="504.355" y2="716.9350000000001" stroke="#333" stroke-width="1"/><path d="M645.7 683.5 L708.6 683.5 Q710.2 685.5 711.8000000000001 683.5 L774.7 683.5 Q780.2 683.5 780.2 689.0 L780.2 716.3 Q778.2 717.9 780.2 719.5 L780.2 746.8 Q780.2 752.3 774.7 752.3 L711.8000000000001 752.3 Q710.2 750.3 708.6 752.3 L645.7 752.3 Q640.2 752.3 640.2 746.8 L640.2 719.5 Q642.2 717.9 640.2 716.3 L640.2 689.0 Q640.2 683.5 645.7 683.5 Z" fill="#dcdcdc" stroke="#555" stroke-width="1.1"/><rect x="645.0" y="691.8" width="130.4" height="54.200000000000045" rx="1.5" fill="#dedede" stroke="#7a7a7a" stroke-width="0.6"/><rect x="703.094" y="701.9" width="14.212000000000005" height="3.5" rx="0.8" fill="#e6e6e6" stroke="#7a7a7a" stroke-width="0.5"/><rect x="645.4" y="705.4" width="129.20000000000005" height="38.60000000000002" fill="#f4c4d5" stroke="#6a5a60" stroke-width="0.6"/><rect x="652.8936" y="710.804" width="115.63400000000004" height="27.792000000000016" fill="none" stroke="#4a3f44" stroke-width="0.6"/><line x1="770.724" y1="706.4" x2="770.724" y2="743" stroke="#4a3f44" stroke-width="0.5"/><circle cx="710.0" cy="724.7" r="10.036000000000007" fill="#efbdd0" stroke="#4a3f44" stroke-width="0.7"/><circle cx="710.0" cy="724.7" r="7.225920000000005" fill="none" stroke="#4a3f44" stroke-width="0.5"/><path d="M705.4838 715.1658 h9.032400000000006 M705.4838 734.2342000000001 h9.032400000000006" stroke="#222" stroke-width="2.316000000000001"/><ellipse cx="710.0" cy="724.7" rx="4.215120000000002" ry="2.609360000000002" fill="none" stroke="#4a3f44" stroke-width="0.5"/><rect x="676.515" y="717.5590000000001" width="20.458000000000013" height="14.282000000000009" rx="6.562000000000005" fill="none" stroke="#4a3f44" stroke-width="0.6"/><rect x="682.1120000000001" y="723.542" width="9.264000000000005" height="2.316000000000001" rx="0.5" fill="none" stroke="#4a3f44" stroke-width="0.45"/><rect x="723.0269999999999" y="717.5590000000001" width="20.458000000000013" height="14.282000000000009" rx="6.562000000000005" fill="none" stroke="#4a3f44" stroke-width="0.6"/><rect x="728.624" y="723.542" width="9.264000000000005" height="2.316000000000001" rx="0.5" fill="none" stroke="#4a3f44" stroke-width="0.45"/><ellipse cx="668.656" cy="724.7" rx="5.018000000000003" ry="2.123000000000001" fill="none" stroke="#4a3f44" stroke-width="0.5"/><circle cx="655.2192" cy="724.7" r="3.474000000000002" fill="none" stroke="#4a3f44" stroke-width="0.6"/><circle cx="655.2192" cy="724.7" r="1.737000000000001" fill="none" stroke="#4a3f44" stroke-width="0.4"/><ellipse cx="751.344" cy="724.7" rx="5.018000000000003" ry="2.123000000000001" fill="none" stroke="#4a3f44" stroke-width="0.5"/><circle cx="764.7808" cy="724.7" r="3.474000000000002" fill="none" stroke="#4a3f44" stroke-width="0.6"/><circle cx="764.7808" cy="724.7" r="1.737000000000001" fill="none" stroke="#4a3f44" stroke-width="0.4"/><path d="M747.4680000000001 734.736 h18.088000000000008" stroke="#333" stroke-width="2.7020000000000017" stroke-dasharray="0.7 0.5"/><line x1="745.5300000000001" y1="732.034" x2="745.5300000000001" y2="737.438" stroke="#333" stroke-width="1"/><path d="M507.8 677 L507.8 690" stroke="#E60012" stroke-width="1.3"/><path d="M502.5 689.5 L513 689.5 L507.8 698.3 Z" fill="#E60012"/><path d="M613 721.5 L624 721.5" stroke="#E60012" stroke-width="1.3"/><path d="M623 712.7 L638.5 721.5 L623 730.4 Z" fill="#E60012"/><text x="520.63" y="768.64" font-size="12.37" fill="#222" textLength="39.99" lengthAdjust="spacingAndGlyphs" >販売時</text><text x="642.36" y="768.77" font-size="11.18" fill="#222" textLength="137.39" lengthAdjust="spacingAndGlyphs" >中身(SB)を180度回転</text><rect x="41" y="811" width="879" height="222" fill="#fffadc"/><rect x="79.8" y="832.4" width="10" height="9.6" fill="#111"/><text x="93.5" y="841.47" font-size="11.18" fill="#111" textLength="29.3" lengthAdjust="spacingAndGlyphs" >1ヶ用</text><text x="125.1" y="867.19" font-size="10.11" fill="#222" textLength="21.21" lengthAdjust="spacingAndGlyphs" >磁石</text><path d="M79.7 874.8 L108.6 874.8 Q110.19999999999999 877.0 111.79999999999998 874.8 L140.7 874.8 Q147.7 874.8 147.7 881.8 L147.7 899.9499999999999 Q145.5 901.55 147.7 903.15 L147.7 921.3 Q147.7 928.3 140.7 928.3 L111.79999999999998 928.3 Q110.19999999999999 926.0999999999999 108.6 928.3 L79.7 928.3 Q72.7 928.3 72.7 921.3 L72.7 903.15 Q74.9 901.55 72.7 899.9499999999999 L72.7 881.8 Q72.7 874.8 79.7 874.8 Z" fill="none" stroke="#2a2a2a" stroke-width="1.05"/><rect x="76.70" y="881.40" width="67.00" height="40.90" rx="2" fill="none" stroke="#2a2a2a" stroke-width="0.6"/><rect x="77.50" y="892.40" width="65.00" height="27.40" fill="none" stroke="#2a2a2a" stroke-width="0.5"/><rect x="104.20" y="889.80" width="12" height="2.6" fill="none" stroke="#2a2a2a" stroke-width="0.5"/><rect x="83.00" y="896.10" width="54.40" height="21.40" fill="none" stroke="#2a2a2a" stroke-width="0.7"/><line x1="139.70" y1="893.40" x2="139.70" y2="918.80" stroke="#2a2a2a" stroke-width="0.5"/><line x1="140.90" y1="893.40" x2="140.90" y2="918.80" stroke="#2a2a2a" stroke-width="0.5"/><path d="M84.00 895.90 q3 -2.5 6 0 M84.00 918.80 q3 2.5 6 0" fill="none" stroke="#2a2a2a" stroke-width="0.4"/><path d="M130.40 895.90 q3 -2.5 6 0 M130.40 918.80 q3 2.5 6 0" fill="none" stroke="#2a2a2a" stroke-width="0.4"/><circle cx="110.20" cy="906.50" r="7.6" fill="none" stroke="#2a2a2a" stroke-width="0.8"/><circle cx="110.20" cy="906.50" r="4.5" fill="none" stroke="#2a2a2a" stroke-width="0.4"/><circle cx="110.20" cy="902.90" r="1.8" fill="#111"/><rect x="107.70" y="911.00" width="5" height="2.2" fill="#333"/><circle cx="86.40" cy="906.50" r="2.8" fill="none" stroke="#2a2a2a" stroke-width="0.6"/><circle cx="86.40" cy="906.50" r="1.4" fill="none" stroke="#2a2a2a" stroke-width="0.4"/><circle cx="134.80" cy="906.50" r="2.8" fill="none" stroke="#2a2a2a" stroke-width="0.6"/><circle cx="134.80" cy="906.50" r="1.4" fill="none" stroke="#2a2a2a" stroke-width="0.4"/><rect x="91.80" y="905.00" width="6.8" height="3" rx="1.5" fill="none" stroke="#2a2a2a" stroke-width="0.4"/><rect x="121.80" y="905.00" width="6.8" height="3" rx="1.5" fill="none" stroke="#2a2a2a" stroke-width="0.4"/><path d="M84.00 899.80 h14" stroke="#2a2a2a" stroke-width="1.6" stroke-dasharray="0.8 0.6"/><line x1="99.00" y1="897.30" x2="99.00" y2="902.30" stroke="#2a2a2a" stroke-width="1.2"/><circle cx="105.00" cy="897.80" r="1.2" fill="none" stroke="#2a2a2a" stroke-width="0.5"/><line x1="117.70" y1="869.90" x2="146.30" y2="869.90" stroke="#2a2a2a" stroke-width="0.5"/><line x1="117.70" y1="869.90" x2="111.20" y2="902.50" stroke="#2a2a2a" stroke-width="0.5"/><line x1="146.70" y1="874.80" x2="177.50" y2="874.80" stroke="#2a2a2a" stroke-width="0.5"/><line x1="148.20" y1="906.50" x2="167.00" y2="906.50" stroke="#2a2a2a" stroke-width="0.5"/><line x1="146.70" y1="928.30" x2="177.50" y2="928.30" stroke="#2a2a2a" stroke-width="0.5"/><line x1="173.50" y1="874.80" x2="173.50" y2="928.30" stroke="#2a2a2a" stroke-width="0.6"/><path d="M173.50 874.80 L174.65 879.20 L172.35 879.20 Z" fill="#2a2a2a"/><path d="M173.50 928.30 L172.35 923.90 L174.65 923.90 Z" fill="#2a2a2a"/><g transform="rotate(-90 173.50 901.55)"><rect x="167.10" y="896.75" width="12.80" height="9.60" fill="#fffadc"/><text x="168.60" y="905.85" font-size="11.94" fill="#111" stroke="#111" stroke-width="0.38" textLength="9.80" lengthAdjust="spacingAndGlyphs">70</text></g><line x1="163.00" y1="906.50" x2="163.00" y2="928.30" stroke="#2a2a2a" stroke-width="0.6"/><path d="M163.00 906.50 L164.15 910.90 L161.85 910.90 Z" fill="#2a2a2a"/><path d="M163.00 928.30 L161.85 923.90 L164.15 923.90 Z" fill="#2a2a2a"/><g transform="rotate(-90 156.10 917.40)"><text x="147.50" y="921.70" font-size="11.94" fill="#111" stroke="#111" stroke-width="0.38" textLength="17.20" lengthAdjust="spacingAndGlyphs">28.5</text></g><line x1="85.30" y1="914.80" x2="85.30" y2="944.20" stroke="#2a2a2a" stroke-width="0.5"/><line x1="134.75" y1="914.80" x2="134.75" y2="944.20" stroke="#2a2a2a" stroke-width="0.5"/><line x1="85.30" y1="941.70" x2="134.75" y2="941.70" stroke="#2a2a2a" stroke-width="0.6"/><path d="M85.30 941.70 L89.70 940.55 L89.70 942.85 Z" fill="#2a2a2a"/><path d="M134.75 941.70 L130.35 942.85 L130.35 940.55 Z" fill="#2a2a2a"/><rect x="97.58" y="937.10" width="24.90" height="9.20" fill="#fffadc"/><text x="99.08" y="945.80" font-size="11.39" fill="#111" stroke="#111" stroke-width="0.38" textLength="21.90" lengthAdjust="spacingAndGlyphs">64.5</text><line x1="72.70" y1="925.30" x2="72.70" y2="957.10" stroke="#2a2a2a" stroke-width="0.5"/><line x1="147.70" y1="925.30" x2="147.70" y2="957.10" stroke="#2a2a2a" stroke-width="0.5"/><line x1="72.70" y1="954.60" x2="147.70" y2="954.60" stroke="#2a2a2a" stroke-width="0.6"/><path d="M72.70 954.60 L77.10 953.45 L77.10 955.75 Z" fill="#2a2a2a"/><path d="M147.70 954.60 L143.30 955.75 L143.30 953.45 Z" fill="#2a2a2a"/><rect x="97.75" y="950.00" width="24.90" height="9.20" fill="#fffadc"/><text x="99.25" y="958.70" font-size="11.39" fill="#111" stroke="#111" stroke-width="0.38" textLength="21.90" lengthAdjust="spacingAndGlyphs">97.5</text><line x1="76.70" y1="968.75" x2="76.70" y2="984.40" stroke="#2a2a2a" stroke-width="0.5"/><line x1="143.30" y1="968.75" x2="143.30" y2="984.40" stroke="#2a2a2a" stroke-width="0.5"/><line x1="76.70" y1="971.25" x2="143.30" y2="971.25" stroke="#2a2a2a" stroke-width="0.6"/><path d="M76.70 971.25 L81.10 970.10 L81.10 972.40 Z" fill="#2a2a2a"/><path d="M143.30 971.25 L138.90 972.40 L138.90 970.10 Z" fill="#2a2a2a"/><rect x="97.55" y="966.65" width="24.90" height="9.20" fill="#fffadc"/><text x="99.05" y="975.35" font-size="11.39" fill="#111" stroke="#111" stroke-width="0.38" textLength="21.90" lengthAdjust="spacingAndGlyphs">87.5</text><line x1="72.70" y1="984.40" x2="147.70" y2="984.40" stroke="#2a2a2a" stroke-width="1.5"/><path d="M76.7 984.4 L77.10000000000001 1019.8 L142.9 1019.8 L143.3 984.4" fill="none" stroke="#2a2a2a" stroke-width="0.9"/><rect x="87.50" y="987.20" width="3.4" height="6" rx="1.7" fill="none" stroke="#2a2a2a" stroke-width="0.5"/><circle cx="89.20" cy="1007.40" r="1.7" fill="none" stroke="#2a2a2a" stroke-width="0.5"/><rect x="129.10" y="987.20" width="3.4" height="6" rx="1.7" fill="none" stroke="#2a2a2a" stroke-width="0.5"/><circle cx="130.80" cy="1007.40" r="1.7" fill="none" stroke="#2a2a2a" stroke-width="0.5"/><line x1="94.70" y1="993.40" x2="102.70" y2="993.40" stroke="#2a2a2a" stroke-width="0.8"/><line x1="117.30" y1="993.40" x2="125.30" y2="993.40" stroke="#2a2a2a" stroke-width="0.8"/><line x1="143.30" y1="984.40" x2="177.50" y2="984.40" stroke="#2a2a2a" stroke-width="0.5"/><line x1="143.30" y1="1019.80" x2="177.50" y2="1019.80" stroke="#2a2a2a" stroke-width="0.5"/><line x1="173.50" y1="984.40" x2="173.50" y2="1019.80" stroke="#2a2a2a" stroke-width="0.6"/><path d="M173.50 984.40 L174.65 988.80 L172.35 988.80 Z" fill="#2a2a2a"/><path d="M173.50 1019.80 L172.35 1015.40 L174.65 1015.40 Z" fill="#2a2a2a"/><g transform="rotate(-90 173.50 1002.10)"><rect x="166.80" y="997.30" width="13.40" height="9.60" fill="#fffadc"/><text x="168.30" y="1006.40" font-size="11.94" fill="#111" stroke="#111" stroke-width="0.38" textLength="10.40" lengthAdjust="spacingAndGlyphs">46</text></g><line x1="207.50" y1="875.20" x2="207.50" y2="928.30" stroke="#2a2a2a" stroke-width="1.5"/><path d="M207.5 882 L241.4 882 Q242.9 882 242.9 883.5 L242.9 922.0 Q242.9 923.5 241.4 923.5 L207.5 923.5" fill="none" stroke="#2a2a2a" stroke-width="0.9"/><line x1="217.50" y1="885.00" x2="217.50" y2="892.00" stroke="#2a2a2a" stroke-width="0.7"/><rect x="212.00" y="897.70" width="13" height="3.6" rx="1.8" fill="none" stroke="#2a2a2a" stroke-width="0.6"/><circle cx="230.50" cy="899.50" r="1.9" fill="none" stroke="#2a2a2a" stroke-width="0.6"/><rect x="212.00" y="912.20" width="13" height="3.6" rx="1.8" fill="none" stroke="#2a2a2a" stroke-width="0.6"/><circle cx="230.50" cy="914.00" r="1.9" fill="none" stroke="#2a2a2a" stroke-width="0.6"/><line x1="217.50" y1="915.80" x2="217.50" y2="918.00" stroke="#2a2a2a" stroke-width="0.5"/><line x1="190.40" y1="882.00" x2="207.50" y2="882.00" stroke="#2a2a2a" stroke-width="0.5"/><line x1="190.40" y1="923.50" x2="207.50" y2="923.50" stroke="#2a2a2a" stroke-width="0.5"/><line x1="194.40" y1="882.00" x2="194.40" y2="923.50" stroke="#2a2a2a" stroke-width="0.6"/><path d="M194.40 882.00 L195.55 886.40 L193.25 886.40 Z" fill="#2a2a2a"/><path d="M194.40 923.50 L193.25 919.10 L195.55 919.10 Z" fill="#2a2a2a"/><g transform="rotate(-90 194.40 902.75)"><rect x="187.70" y="897.95" width="13.40" height="9.60" fill="#fffadc"/><text x="189.20" y="907.05" font-size="11.94" fill="#111" stroke="#111" stroke-width="0.38" textLength="10.40" lengthAdjust="spacingAndGlyphs">53</text></g><rect x="343.9" y="832.7" width="10" height="9.6" fill="#111"/><text x="355.5" y="841.77" font-size="11.18" fill="#111" textLength="32.3" lengthAdjust="spacingAndGlyphs" >2ヶ用</text><text x="408.71" y="863.94" font-size="9.68" fill="#222" textLength="21.17" lengthAdjust="spacingAndGlyphs" >磁石</text><path d="M346.75 871.25 L392.325 871.25 Q393.925 873.45 395.52500000000003 871.25 L441.1 871.25 Q448.1 871.25 448.1 878.25 L448.1 896.525 Q445.90000000000003 898.125 448.1 899.725 L448.1 918 Q448.1 925 441.1 925 L395.52500000000003 925 Q393.925 922.8 392.325 925 L346.75 925 Q339.75 925 339.75 918 L339.75 899.725 Q341.95 898.125 339.75 896.525 L339.75 878.25 Q339.75 871.25 346.75 871.25 Z" fill="none" stroke="#2a2a2a" stroke-width="1.05"/><rect x="343.75" y="877.85" width="100.35" height="41.15" rx="2" fill="none" stroke="#2a2a2a" stroke-width="0.6"/><rect x="344.55" y="888.85" width="98.35" height="27.65" fill="none" stroke="#2a2a2a" stroke-width="0.5"/><rect x="387.93" y="886.25" width="12" height="2.6" fill="none" stroke="#2a2a2a" stroke-width="0.5"/><rect x="350.05" y="892.55" width="87.75" height="21.40" fill="none" stroke="#2a2a2a" stroke-width="0.7"/><line x1="440.10" y1="889.85" x2="440.10" y2="915.50" stroke="#2a2a2a" stroke-width="0.5"/><line x1="441.30" y1="889.85" x2="441.30" y2="915.50" stroke="#2a2a2a" stroke-width="0.5"/><path d="M351.05 892.35 q3 -2.5 6 0 M351.05 915.50 q3 2.5 6 0" fill="none" stroke="#2a2a2a" stroke-width="0.4"/><path d="M430.80 892.35 q3 -2.5 6 0 M430.80 915.50 q3 2.5 6 0" fill="none" stroke="#2a2a2a" stroke-width="0.4"/><circle cx="394.00" cy="902.95" r="7.6" fill="none" stroke="#2a2a2a" stroke-width="0.8"/><circle cx="394.00" cy="902.95" r="4.5" fill="none" stroke="#2a2a2a" stroke-width="0.4"/><circle cx="394.00" cy="899.35" r="1.8" fill="#111"/><rect x="391.50" y="907.45" width="5" height="2.2" fill="#333"/><circle cx="353.45" cy="902.95" r="2.8" fill="none" stroke="#2a2a2a" stroke-width="0.6"/><circle cx="353.45" cy="902.95" r="1.4" fill="none" stroke="#2a2a2a" stroke-width="0.4"/><circle cx="435.20" cy="902.95" r="2.8" fill="none" stroke="#2a2a2a" stroke-width="0.6"/><circle cx="435.20" cy="902.95" r="1.4" fill="none" stroke="#2a2a2a" stroke-width="0.4"/><rect x="358.85" y="901.45" width="6.8" height="3" rx="1.5" fill="none" stroke="#2a2a2a" stroke-width="0.4"/><rect x="422.20" y="901.45" width="6.8" height="3" rx="1.5" fill="none" stroke="#2a2a2a" stroke-width="0.4"/><rect x="367.73" y="897.45" width="16" height="11" rx="5" fill="none" stroke="#2a2a2a" stroke-width="0.6"/><rect x="372.23" y="902.15" width="7" height="1.6" fill="none" stroke="#2a2a2a" stroke-width="0.4"/><rect x="404.12" y="897.45" width="16" height="11" rx="5" fill="none" stroke="#2a2a2a" stroke-width="0.6"/><rect x="408.62" y="902.15" width="7" height="1.6" fill="none" stroke="#2a2a2a" stroke-width="0.4"/><path d="M351.05 896.25 h14" stroke="#2a2a2a" stroke-width="1.6" stroke-dasharray="0.8 0.6"/><line x1="366.05" y1="893.75" x2="366.05" y2="898.75" stroke="#2a2a2a" stroke-width="1.2"/><circle cx="372.05" cy="894.25" r="1.2" fill="none" stroke="#2a2a2a" stroke-width="0.5"/><line x1="401.30" y1="866.60" x2="429.90" y2="866.60" stroke="#2a2a2a" stroke-width="0.5"/><line x1="401.30" y1="866.60" x2="395.00" y2="898.95" stroke="#2a2a2a" stroke-width="0.5"/><line x1="447.10" y1="871.25" x2="477.70" y2="871.25" stroke="#2a2a2a" stroke-width="0.5"/><line x1="448.60" y1="902.95" x2="466.50" y2="902.95" stroke="#2a2a2a" stroke-width="0.5"/><line x1="447.10" y1="925.00" x2="477.70" y2="925.00" stroke="#2a2a2a" stroke-width="0.5"/><line x1="473.70" y1="871.25" x2="473.70" y2="925.00" stroke="#2a2a2a" stroke-width="0.6"/><path d="M473.70 871.25 L474.85 875.65 L472.55 875.65 Z" fill="#2a2a2a"/><path d="M473.70 925.00 L472.55 920.60 L474.85 920.60 Z" fill="#2a2a2a"/><g transform="rotate(-90 473.70 898.12)"><rect x="467.30" y="893.33" width="12.80" height="9.60" fill="#fffadc"/><text x="468.80" y="902.42" font-size="11.94" fill="#111" stroke="#111" stroke-width="0.38" textLength="9.80" lengthAdjust="spacingAndGlyphs">70</text></g><line x1="462.50" y1="902.95" x2="462.50" y2="925.00" stroke="#2a2a2a" stroke-width="0.6"/><path d="M462.50 902.95 L463.65 907.35 L461.35 907.35 Z" fill="#2a2a2a"/><path d="M462.50 925.00 L461.35 920.60 L463.65 920.60 Z" fill="#2a2a2a"/><g transform="rotate(-90 455.60 913.98)"><text x="447.00" y="918.27" font-size="11.94" fill="#111" stroke="#111" stroke-width="0.38" textLength="17.20" lengthAdjust="spacingAndGlyphs">28.5</text></g><line x1="352.00" y1="911.25" x2="352.00" y2="940.10" stroke="#2a2a2a" stroke-width="0.5"/><line x1="435.40" y1="911.25" x2="435.40" y2="940.10" stroke="#2a2a2a" stroke-width="0.5"/><line x1="352.00" y1="937.60" x2="435.40" y2="937.60" stroke="#2a2a2a" stroke-width="0.6"/><path d="M352.00 937.60 L356.40 936.45 L356.40 938.75 Z" fill="#2a2a2a"/><path d="M435.40 937.60 L431.00 938.75 L431.00 936.45 Z" fill="#2a2a2a"/><rect x="384.40" y="933.00" width="18.60" height="9.20" fill="#fffadc"/><text x="385.90" y="941.70" font-size="11.39" fill="#111" stroke="#111" stroke-width="0.38" textLength="15.60" lengthAdjust="spacingAndGlyphs">109</text><line x1="339.75" y1="922.00" x2="339.75" y2="952.80" stroke="#2a2a2a" stroke-width="0.5"/><line x1="448.10" y1="922.00" x2="448.10" y2="952.80" stroke="#2a2a2a" stroke-width="0.5"/><line x1="339.75" y1="950.30" x2="448.10" y2="950.30" stroke="#2a2a2a" stroke-width="0.6"/><path d="M339.75 950.30 L344.15 949.15 L344.15 951.45 Z" fill="#2a2a2a"/><path d="M448.10 950.30 L443.70 951.45 L443.70 949.15 Z" fill="#2a2a2a"/><rect x="384.62" y="945.70" width="18.60" height="9.20" fill="#fffadc"/><text x="386.12" y="954.40" font-size="11.39" fill="#111" stroke="#111" stroke-width="0.38" textLength="15.60" lengthAdjust="spacingAndGlyphs">142</text><line x1="343.20" y1="965.30" x2="343.20" y2="980.70" stroke="#2a2a2a" stroke-width="0.5"/><line x1="444.50" y1="965.30" x2="444.50" y2="980.70" stroke="#2a2a2a" stroke-width="0.5"/><line x1="343.20" y1="967.80" x2="444.50" y2="967.80" stroke="#2a2a2a" stroke-width="0.6"/><path d="M343.20 967.80 L347.60 966.65 L347.60 968.95 Z" fill="#2a2a2a"/><path d="M444.50 967.80 L440.10 968.95 L440.10 966.65 Z" fill="#2a2a2a"/><rect x="384.55" y="963.20" width="18.60" height="9.20" fill="#fffadc"/><text x="386.05" y="971.90" font-size="11.39" fill="#111" stroke="#111" stroke-width="0.38" textLength="15.60" lengthAdjust="spacingAndGlyphs">132</text><line x1="339.75" y1="980.70" x2="448.10" y2="980.70" stroke="#2a2a2a" stroke-width="1.5"/><path d="M343.2 980.7 L343.59999999999997 1015.7 L444.1 1015.7 L444.5 980.7" fill="none" stroke="#2a2a2a" stroke-width="0.9"/><rect x="354.00" y="983.50" width="3.4" height="6" rx="1.7" fill="none" stroke="#2a2a2a" stroke-width="0.5"/><circle cx="355.70" cy="1003.70" r="1.7" fill="none" stroke="#2a2a2a" stroke-width="0.5"/><rect x="430.30" y="983.50" width="3.4" height="6" rx="1.7" fill="none" stroke="#2a2a2a" stroke-width="0.5"/><circle cx="432.00" cy="1003.70" r="1.7" fill="none" stroke="#2a2a2a" stroke-width="0.5"/><line x1="361.20" y1="989.70" x2="369.20" y2="989.70" stroke="#2a2a2a" stroke-width="0.8"/><line x1="418.50" y1="989.70" x2="426.50" y2="989.70" stroke="#2a2a2a" stroke-width="0.8"/><line x1="444.50" y1="980.70" x2="477.70" y2="980.70" stroke="#2a2a2a" stroke-width="0.5"/><line x1="444.50" y1="1015.70" x2="477.70" y2="1015.70" stroke="#2a2a2a" stroke-width="0.5"/><line x1="473.70" y1="980.70" x2="473.70" y2="1015.70" stroke="#2a2a2a" stroke-width="0.6"/><path d="M473.70 980.70 L474.85 985.10 L472.55 985.10 Z" fill="#2a2a2a"/><path d="M473.70 1015.70 L472.55 1011.30 L474.85 1011.30 Z" fill="#2a2a2a"/><g transform="rotate(-90 473.70 998.20)"><rect x="467.00" y="993.40" width="13.40" height="9.60" fill="#fffadc"/><text x="468.50" y="1002.50" font-size="11.94" fill="#111" stroke="#111" stroke-width="0.38" textLength="10.40" lengthAdjust="spacingAndGlyphs">46</text></g><line x1="507.80" y1="871.50" x2="507.80" y2="925.40" stroke="#2a2a2a" stroke-width="1.5"/><path d="M507.8 877.5 L541.7 877.5 Q543.2 877.5 543.2 879.0 L543.2 916.7 Q543.2 918.2 541.7 918.2 L507.8 918.2" fill="none" stroke="#2a2a2a" stroke-width="0.9"/><line x1="517.80" y1="880.50" x2="517.80" y2="887.50" stroke="#2a2a2a" stroke-width="0.7"/><rect x="512.30" y="893.20" width="13" height="3.6" rx="1.8" fill="none" stroke="#2a2a2a" stroke-width="0.6"/><circle cx="530.80" cy="895.00" r="1.9" fill="none" stroke="#2a2a2a" stroke-width="0.6"/><rect x="512.30" y="907.70" width="13" height="3.6" rx="1.8" fill="none" stroke="#2a2a2a" stroke-width="0.6"/><circle cx="530.80" cy="909.50" r="1.9" fill="none" stroke="#2a2a2a" stroke-width="0.6"/><line x1="517.80" y1="911.30" x2="517.80" y2="913.50" stroke="#2a2a2a" stroke-width="0.5"/><line x1="491.30" y1="877.50" x2="507.80" y2="877.50" stroke="#2a2a2a" stroke-width="0.5"/><line x1="491.30" y1="918.20" x2="507.80" y2="918.20" stroke="#2a2a2a" stroke-width="0.5"/><line x1="495.30" y1="877.50" x2="495.30" y2="918.20" stroke="#2a2a2a" stroke-width="0.6"/><path d="M495.30 877.50 L496.45 881.90 L494.15 881.90 Z" fill="#2a2a2a"/><path d="M495.30 918.20 L494.15 913.80 L496.45 913.80 Z" fill="#2a2a2a"/><g transform="rotate(-90 495.30 897.85)"><rect x="488.60" y="893.05" width="13.40" height="9.60" fill="#fffadc"/><text x="490.10" y="902.15" font-size="11.94" fill="#111" stroke="#111" stroke-width="0.38" textLength="10.40" lengthAdjust="spacingAndGlyphs">53</text></g><rect x="665.7" y="833.0" width="10" height="9.6" fill="#111"/><text x="677.3" y="841.98" font-size="11.08" fill="#111" textLength="31.2" lengthAdjust="spacingAndGlyphs" >3ヶ用</text><text x="748.61" y="861.75" font-size="9.57" fill="#222" textLength="21.07" lengthAdjust="spacingAndGlyphs" >磁石</text><path d="M669.2 869.6 L731.6 869.6 Q733.2 871.8000000000001 734.8000000000001 869.6 L797.2 869.6 Q804.2 869.6 804.2 876.6 L804.2 894.35 Q802.0 895.95 804.2 897.5500000000001 L804.2 915.3 Q804.2 922.3 797.2 922.3 L734.8000000000001 922.3 Q733.2 920.0999999999999 731.6 922.3 L669.2 922.3 Q662.2 922.3 662.2 915.3 L662.2 897.5500000000001 Q664.4000000000001 895.95 662.2 894.35 L662.2 876.6 Q662.2 869.6 669.2 869.6 Z" fill="none" stroke="#2a2a2a" stroke-width="1.05"/><rect x="666.20" y="876.20" width="134.00" height="40.10" rx="2" fill="none" stroke="#2a2a2a" stroke-width="0.6"/><rect x="667.00" y="887.20" width="132.00" height="26.60" fill="none" stroke="#2a2a2a" stroke-width="0.5"/><rect x="727.20" y="884.60" width="12" height="2.6" fill="none" stroke="#2a2a2a" stroke-width="0.5"/><rect x="672.50" y="890.90" width="121.40" height="21.40" fill="none" stroke="#2a2a2a" stroke-width="0.7"/><line x1="796.20" y1="888.20" x2="796.20" y2="912.80" stroke="#2a2a2a" stroke-width="0.5"/><line x1="797.40" y1="888.20" x2="797.40" y2="912.80" stroke="#2a2a2a" stroke-width="0.5"/><path d="M673.50 890.70 q3 -2.5 6 0 M673.50 912.80 q3 2.5 6 0" fill="none" stroke="#2a2a2a" stroke-width="0.4"/><path d="M786.90 890.70 q3 -2.5 6 0 M786.90 912.80 q3 2.5 6 0" fill="none" stroke="#2a2a2a" stroke-width="0.4"/><circle cx="733.20" cy="901.30" r="7.6" fill="none" stroke="#2a2a2a" stroke-width="0.8"/><circle cx="733.20" cy="901.30" r="4.5" fill="none" stroke="#2a2a2a" stroke-width="0.4"/><circle cx="733.20" cy="897.70" r="1.8" fill="#111"/><rect x="730.70" y="905.80" width="5" height="2.2" fill="#333"/><circle cx="675.90" cy="901.30" r="2.8" fill="none" stroke="#2a2a2a" stroke-width="0.6"/><circle cx="675.90" cy="901.30" r="1.4" fill="none" stroke="#2a2a2a" stroke-width="0.4"/><circle cx="791.30" cy="901.30" r="2.8" fill="none" stroke="#2a2a2a" stroke-width="0.6"/><circle cx="791.30" cy="901.30" r="1.4" fill="none" stroke="#2a2a2a" stroke-width="0.4"/><rect x="681.30" y="899.80" width="6.8" height="3" rx="1.5" fill="none" stroke="#2a2a2a" stroke-width="0.4"/><rect x="778.30" y="899.80" width="6.8" height="3" rx="1.5" fill="none" stroke="#2a2a2a" stroke-width="0.4"/><rect x="690.80" y="895.80" width="16" height="11" rx="5" fill="none" stroke="#2a2a2a" stroke-width="0.6"/><rect x="695.30" y="900.50" width="7" height="1.6" fill="none" stroke="#2a2a2a" stroke-width="0.4"/><rect x="759.90" y="895.80" width="16" height="11" rx="5" fill="none" stroke="#2a2a2a" stroke-width="0.6"/><rect x="764.40" y="900.50" width="7" height="1.6" fill="none" stroke="#2a2a2a" stroke-width="0.4"/><line x1="710.00" y1="898.30" x2="710.00" y2="904.30" stroke="#2a2a2a" stroke-width="0.6"/><line x1="722.60" y1="898.30" x2="722.60" y2="904.30" stroke="#2a2a2a" stroke-width="0.6"/><line x1="743.00" y1="898.30" x2="743.00" y2="904.30" stroke="#2a2a2a" stroke-width="0.6"/><line x1="755.60" y1="898.30" x2="755.60" y2="904.30" stroke="#2a2a2a" stroke-width="0.6"/><path d="M673.50 894.60 h14" stroke="#2a2a2a" stroke-width="1.6" stroke-dasharray="0.8 0.6"/><line x1="688.50" y1="892.10" x2="688.50" y2="897.10" stroke="#2a2a2a" stroke-width="1.2"/><circle cx="694.50" cy="892.60" r="1.2" fill="none" stroke="#2a2a2a" stroke-width="0.5"/><line x1="741.20" y1="864.40" x2="769.70" y2="864.40" stroke="#2a2a2a" stroke-width="0.5"/><line x1="741.20" y1="864.40" x2="734.20" y2="897.30" stroke="#2a2a2a" stroke-width="0.5"/><line x1="803.20" y1="869.60" x2="834.10" y2="869.60" stroke="#2a2a2a" stroke-width="0.5"/><line x1="804.70" y1="901.30" x2="823.30" y2="901.30" stroke="#2a2a2a" stroke-width="0.5"/><line x1="803.20" y1="922.30" x2="834.10" y2="922.30" stroke="#2a2a2a" stroke-width="0.5"/><line x1="830.10" y1="869.60" x2="830.10" y2="922.30" stroke="#2a2a2a" stroke-width="0.6"/><path d="M830.10 869.60 L831.25 874.00 L828.95 874.00 Z" fill="#2a2a2a"/><path d="M830.10 922.30 L828.95 917.90 L831.25 917.90 Z" fill="#2a2a2a"/><g transform="rotate(-90 830.10 895.95)"><rect x="823.70" y="891.15" width="12.80" height="9.60" fill="#fffadc"/><text x="825.20" y="900.25" font-size="11.94" fill="#111" stroke="#111" stroke-width="0.38" textLength="9.80" lengthAdjust="spacingAndGlyphs">70</text></g><line x1="819.30" y1="901.30" x2="819.30" y2="922.30" stroke="#2a2a2a" stroke-width="0.6"/><path d="M819.30 901.30 L820.45 905.70 L818.15 905.70 Z" fill="#2a2a2a"/><path d="M819.30 922.30 L818.15 917.90 L820.45 917.90 Z" fill="#2a2a2a"/><g transform="rotate(-90 812.40 911.80)"><text x="803.80" y="916.10" font-size="11.94" fill="#111" stroke="#111" stroke-width="0.38" textLength="17.20" lengthAdjust="spacingAndGlyphs">28.5</text></g><line x1="674.90" y1="909.60" x2="674.90" y2="937.70" stroke="#2a2a2a" stroke-width="0.5"/><line x1="792.20" y1="909.60" x2="792.20" y2="937.70" stroke="#2a2a2a" stroke-width="0.5"/><line x1="674.90" y1="935.20" x2="792.20" y2="935.20" stroke="#2a2a2a" stroke-width="0.6"/><path d="M674.90 935.20 L679.30 934.05 L679.30 936.35 Z" fill="#2a2a2a"/><path d="M792.20 935.20 L787.80 936.35 L787.80 934.05 Z" fill="#2a2a2a"/><rect x="723.95" y="930.60" width="19.20" height="9.20" fill="#fffadc"/><text x="725.45" y="939.30" font-size="11.39" fill="#111" stroke="#111" stroke-width="0.38" textLength="16.20" lengthAdjust="spacingAndGlyphs">154</text><line x1="662.20" y1="919.30" x2="662.20" y2="950.70" stroke="#2a2a2a" stroke-width="0.5"/><line x1="804.20" y1="919.30" x2="804.20" y2="950.70" stroke="#2a2a2a" stroke-width="0.5"/><line x1="662.20" y1="948.20" x2="804.20" y2="948.20" stroke="#2a2a2a" stroke-width="0.6"/><path d="M662.20 948.20 L666.60 947.05 L666.60 949.35 Z" fill="#2a2a2a"/><path d="M804.20 948.20 L799.80 949.35 L799.80 947.05 Z" fill="#2a2a2a"/><rect x="723.60" y="943.60" width="19.20" height="9.20" fill="#fffadc"/><text x="725.10" y="952.30" font-size="11.39" fill="#111" stroke="#111" stroke-width="0.38" textLength="16.20" lengthAdjust="spacingAndGlyphs">187</text><line x1="665.70" y1="963.00" x2="665.70" y2="978.50" stroke="#2a2a2a" stroke-width="0.5"/><line x1="801.10" y1="963.00" x2="801.10" y2="978.50" stroke="#2a2a2a" stroke-width="0.5"/><line x1="665.70" y1="965.50" x2="801.10" y2="965.50" stroke="#2a2a2a" stroke-width="0.6"/><path d="M665.70 965.50 L670.10 964.35 L670.10 966.65 Z" fill="#2a2a2a"/><path d="M801.10 965.50 L796.70 966.65 L796.70 964.35 Z" fill="#2a2a2a"/><rect x="723.80" y="960.90" width="19.20" height="9.20" fill="#fffadc"/><text x="725.30" y="969.60" font-size="11.39" fill="#111" stroke="#111" stroke-width="0.38" textLength="16.20" lengthAdjust="spacingAndGlyphs">177</text><line x1="662.20" y1="978.50" x2="804.20" y2="978.50" stroke="#2a2a2a" stroke-width="1.5"/><path d="M665.7 978.5 L666.1 1013.2 L800.7 1013.2 L801.1 978.5" fill="none" stroke="#2a2a2a" stroke-width="0.9"/><rect x="676.50" y="981.30" width="3.4" height="6" rx="1.7" fill="none" stroke="#2a2a2a" stroke-width="0.5"/><circle cx="678.20" cy="1001.50" r="1.7" fill="none" stroke="#2a2a2a" stroke-width="0.5"/><rect x="786.90" y="981.30" width="3.4" height="6" rx="1.7" fill="none" stroke="#2a2a2a" stroke-width="0.5"/><circle cx="788.60" cy="1001.50" r="1.7" fill="none" stroke="#2a2a2a" stroke-width="0.5"/><line x1="683.70" y1="987.50" x2="691.70" y2="987.50" stroke="#2a2a2a" stroke-width="0.8"/><line x1="775.10" y1="987.50" x2="783.10" y2="987.50" stroke="#2a2a2a" stroke-width="0.8"/><line x1="801.10" y1="978.50" x2="835.00" y2="978.50" stroke="#2a2a2a" stroke-width="0.5"/><line x1="801.10" y1="1013.20" x2="835.00" y2="1013.20" stroke="#2a2a2a" stroke-width="0.5"/><line x1="831.00" y1="978.50" x2="831.00" y2="1013.20" stroke="#2a2a2a" stroke-width="0.6"/><path d="M831.00 978.50 L832.15 982.90 L829.85 982.90 Z" fill="#2a2a2a"/><path d="M831.00 1013.20 L829.85 1008.80 L832.15 1008.80 Z" fill="#2a2a2a"/><g transform="rotate(-90 831.00 995.85)"><rect x="824.30" y="991.05" width="13.40" height="9.60" fill="#fffadc"/><text x="825.80" y="1000.15" font-size="11.94" fill="#111" stroke="#111" stroke-width="0.38" textLength="10.40" lengthAdjust="spacingAndGlyphs">46</text></g><line x1="864.80" y1="869.60" x2="864.80" y2="922.40" stroke="#2a2a2a" stroke-width="1.5"/><path d="M864.8 876 L897.7 876 Q899.2 876 899.2 877.5 L899.2 914.7 Q899.2 916.2 897.7 916.2 L864.8 916.2" fill="none" stroke="#2a2a2a" stroke-width="0.9"/><line x1="874.80" y1="879.00" x2="874.80" y2="886.00" stroke="#2a2a2a" stroke-width="0.7"/><rect x="869.30" y="891.70" width="13" height="3.6" rx="1.8" fill="none" stroke="#2a2a2a" stroke-width="0.6"/><circle cx="887.80" cy="893.50" r="1.9" fill="none" stroke="#2a2a2a" stroke-width="0.6"/><rect x="869.30" y="906.20" width="13" height="3.6" rx="1.8" fill="none" stroke="#2a2a2a" stroke-width="0.6"/><circle cx="887.80" cy="908.00" r="1.9" fill="none" stroke="#2a2a2a" stroke-width="0.6"/><line x1="874.80" y1="909.80" x2="874.80" y2="912.00" stroke="#2a2a2a" stroke-width="0.5"/><line x1="847.80" y1="876.00" x2="864.80" y2="876.00" stroke="#2a2a2a" stroke-width="0.5"/><line x1="847.80" y1="916.20" x2="864.80" y2="916.20" stroke="#2a2a2a" stroke-width="0.5"/><line x1="851.80" y1="876.00" x2="851.80" y2="916.20" stroke="#2a2a2a" stroke-width="0.6"/><path d="M851.80 876.00 L852.95 880.40 L850.65 880.40 Z" fill="#2a2a2a"/><path d="M851.80 916.20 L850.65 911.80 L852.95 911.80 Z" fill="#2a2a2a"/><g transform="rotate(-90 851.80 896.10)"><rect x="845.10" y="891.30" width="13.40" height="9.60" fill="#fffadc"/><text x="846.60" y="900.40" font-size="11.94" fill="#111" stroke="#111" stroke-width="0.38" textLength="10.40" lengthAdjust="spacingAndGlyphs">53</text></g>
</svg></body></html>
